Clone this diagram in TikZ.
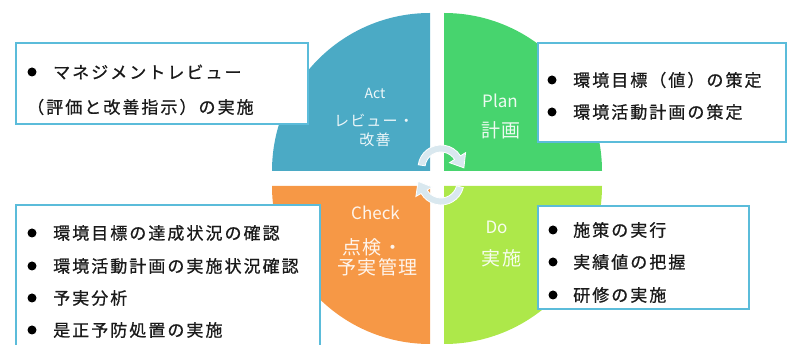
\documentclass[tikz,border=0pt]{standalone}
\usepackage{fontspec}
\setmainfont{Noto Sans CJK JP}
\newfontfamily\jp[LetterSpace=12,FakeBold=0.8]{Noto Sans CJK JP}
\newfontfamily\jpq[LetterSpace=8]{Noto Sans CJK JP}
\usetikzlibrary{calc}
\definecolor{actc}{HTML}{4BAAC5}
\definecolor{planc}{HTML}{47D46E}
\definecolor{checkc}{HTML}{F69846}
\definecolor{doc}{HTML}{ADE84A}
\definecolor{boxc}{HTML}{5BBCDA}
\definecolor{arrc}{HTML}{D9E8EF}
\definecolor{txtc}{HTML}{1A1A1A}
\begin{document}
\begin{tikzpicture}[x=1pt,y=1pt,
  box/.style={draw=boxc, line width=1.8pt, fill=white},
  item/.style={anchor=west, inner sep=0pt, font=\jp\fontsize{17}{17}\selectfont, text=txtc},
  dot/.style={circle, fill=black, inner sep=0pt, minimum size=9pt},
  qlat/.style={inner sep=0pt, text=white, text opacity=0.9, font=\fontsize{17}{17}\selectfont},
  qjp/.style={inner sep=0pt, text=white, text opacity=0.9, font=\jpq\fontsize{19}{19}\selectfont},
  slat/.style={inner sep=0pt, text=white, text opacity=0.9, font=\fontsize{14}{14}\selectfont},
  sjp/.style={inner sep=0pt, text=white, text opacity=0.9, font=\jpq\fontsize{15}{15}\selectfont},
  cyc/.style={fill=arrc, draw=white, line width=0.8pt}]
\useasboundingbox (0,0) rectangle (788,345);
\clip (0,0) rectangle (788,345);
% quadrants
\fill[actc] (430,174) -- (272,174) arc[start angle=180, end angle=90, radius=158] -- cycle;
\fill[planc] (444,174) -- (444,332) arc[start angle=90, end angle=0, radius=158] -- cycle;
\fill[checkc] (430,159) -- (272,159) arc[start angle=180, end angle=270, radius=158] -- cycle;
\fill[doc] (444,159) -- (602,159) arc[start angle=0, end angle=-90, radius=158] -- cycle;
% cycle arrows
\coordinate (T) at (441,177);
\coordinate (B) at (441,163);
\filldraw[cyc] ($(T)+(172:23)$) arc[start angle=172, end angle=32, radius=23]
  -- ($(T)+(32:29)$) -- ($(T)+(32:19.5)+(-58:12)$) -- ($(T)+(32:10)$)
  -- ($(T)+(32:16)$) arc[start angle=32, end angle=172, radius=16] -- cycle;
\filldraw[cyc] ($(B)+(-14:23)$) arc[start angle=-14, end angle=-150, radius=23]
  -- ($(B)+(-150:29)$) -- ($(B)+(-150:19.5)+(120:12)$) -- ($(B)+(-150:10)$)
  -- ($(B)+(-150:16)$) arc[start angle=-150, end angle=-14, radius=16] -- cycle;
% quadrant labels
\node[slat] (actA) at (375,252) {Act};
\node[sjp] (actB) at (374,225) {レビュー・};
\node[sjp] (actC) at (375,205) {改善};
\node[qlat] (planA) at (500,244) {Plan};
\node[qjp] (planB) at (501,215) {計画};
\node[qlat] (chkA) at (375.5,132) {Check};
\node[qjp] (chkB) at (372.5,98) {点検・};
\node[qjp] (chkC) at (377.5,78) {予実管理};
\node[qlat] (doA) at (496.5,118) {Do};
\node[qjp] (doB) at (501.5,87) {実施};
% boxes
\draw[box] (16,302) rectangle (308,221);
\draw[box] (538,302) rectangle (786,203);
\draw[box] (16,140) rectangle (320,-10);
\draw[box] (538,139) rectangle (749,36);
% Act box
\node[dot] (a1d) at (32,273) {};
\node[item] (a1) at (53,273) {マネジメントレビュー};
\node[item] (a2) at (27,238) {（評価と改善指示）の実施};
% Plan box
\node[dot] (p1d) at (552,265) {};
\node[item] (p1) at (573,265) {環境目標（値）の策定};
\node[dot] (p2d) at (552,233) {};
\node[item] (p2) at (573,233) {環境活動計画の策定};
% Check box
\node[dot] (c1d) at (32,112) {};
\node[item] (c1) at (53,112) {環境目標の達成状況の確認};
\node[dot] (c2d) at (32,79) {};
\node[item] (c2) at (53,79) {環境活動計画の実施状況確認};
\node[dot] (c3d) at (32,47) {};
\node[item] (c3) at (53,47) {予実分析};
\node[dot] (c4d) at (32,15) {};
\node[item] (c4) at (53,15) {是正予防処置の実施};
% Do box
\node[dot] (d1d) at (553,115) {};
\node[item] (d1) at (573,115) {施策の実行};
\node[dot] (d2d) at (553,83) {};
\node[item] (d2) at (573,83) {実績値の把握};
\node[dot] (d3d) at (553,50) {};
\node[item] (d3) at (573,50) {研修の実施};
\end{tikzpicture}
\end{document}
